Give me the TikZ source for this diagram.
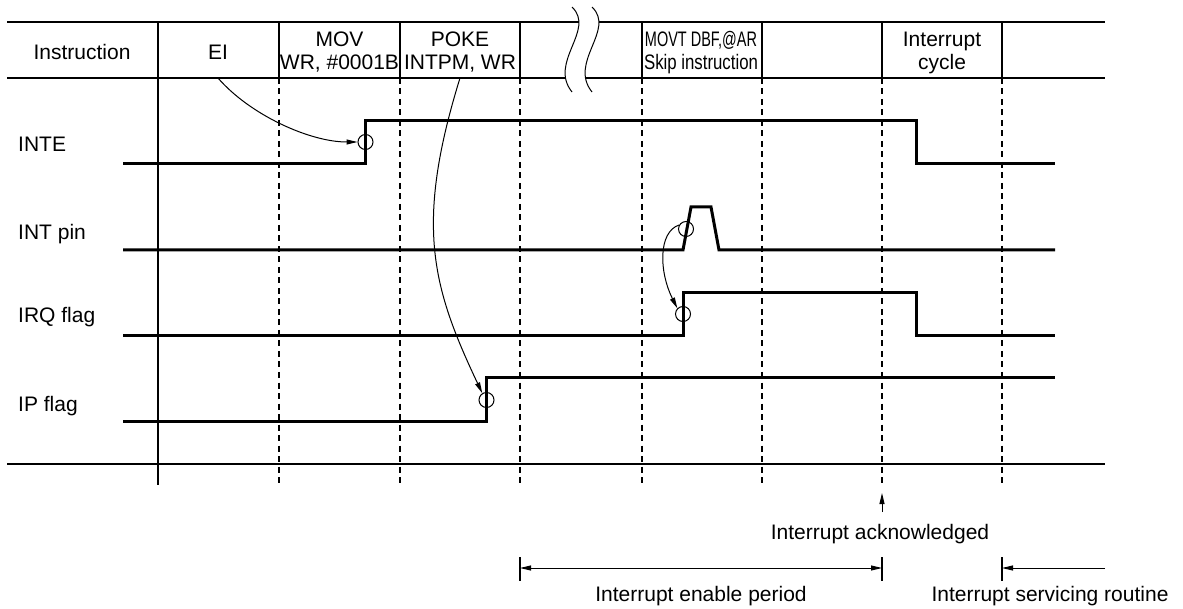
\documentclass[tikz,border=0pt]{standalone}
\usepackage{fontspec}
\setmainfont{Liberation Sans}
\usetikzlibrary{arrows.meta}
\begin{document}
\begin{tikzpicture}[x=1pt,y=-1pt,
  gridline/.style={line width=1.2pt},
  dashline/.style={line width=1.2pt, dash pattern=on 6pt off 4.5pt},
  sig/.style={line width=3pt, line join=miter},
  ring/.style={circle, draw, line width=1pt, minimum size=15pt, inner sep=0pt},
  tip/.style={-{Triangle[length=11pt,width=5pt]}},
  arr/.style={line width=1pt, tip},
  lbl/.style={font=\fontsize{21}{23}\selectfont, inner sep=0pt, anchor=base},
  wave/.style={line width=1pt},
]
\useasboundingbox (0,0) rectangle (1183,609);

% header and bottom lines
\draw[gridline] (7,22) -- (579,22) (599,22) -- (1105,22);
\draw[gridline] (7,78) -- (566,78) (586,78) -- (1105,78);
\draw[gridline] (7,464) -- (1105,464);
\draw[wave] (572,7) .. controls (596,30) and (548,62) .. (572,92);
\draw[wave] (592,7) .. controls (616,30) and (568,62) .. (592,92);

% vertical lines
\draw[gridline] (158,22) -- (158,485);
\foreach \x in {279,400,520,642,762,882,1002}{
  \draw[gridline] (\x,22) -- (\x,78);
  \draw[dashline] (\x,78) -- (\x,485);
}

% header texts
\node[lbl] (hinstr) at (82,60) {Instruction};
\node[lbl] (hei) at (218,60) {EI};
\node[lbl] (hmov1) at (339.5,47) {MOV};
\node[lbl] (hmov2) at (339.5,70) {WR, \#0001B};
\node[lbl] (hpoke1) at (460,47) {POKE};
\node[lbl] (hpoke2) at (460,70) {INTPM, WR};
\node[lbl] (hmovt1) at (701,47) {\scalebox{0.69}[1]{MOVT DBF,@AR}};
\node[lbl] (hmovt2) at (701,70) {\scalebox{0.8}[1]{Skip instruction}};
\node[lbl] (hint1) at (942,47) {Interrupt};
\node[lbl] (hint2) at (942,70) {cycle};

% signal labels
\node[lbl, anchor=base west] (linte) at (18,152) {INTE};
\node[lbl, anchor=base west] (lint) at (18,240) {INT pin};
\node[lbl, anchor=base west] (lirq) at (18,323) {IRQ flag};
\node[lbl, anchor=base west] (lip) at (18,411) {IP flag};

% signals
\draw[sig] (123,164) -- (365.5,164) -- (365.5,121) -- (916,121) -- (916,164) -- (1055,164);
\draw[sig] (123,250) -- (683,250) -- (691,207) -- (711,207) -- (719,250) -- (1055,250);
\draw[sig] (123,336) -- (683,336) -- (683,293) -- (916,293) -- (916,336) -- (1055,336);
\draw[sig] (123,421) -- (486.5,421) -- (486.5,378) -- (1055,378);

% circles
\node[ring] (c1) at (365.5,142) {};
\node[ring] (c2) at (686,229) {};
\node[ring] (c3) at (683,314) {};
\node[ring] (c4) at (486.5,400) {};

% curved arrows
\coordinate (ei) at (218,78);
\coordinate (poke) at (460,78);
\draw[arr] (ei) .. controls (250,115) and (310,142) .. (c1.west);
\draw[arr] (poke) .. controls (414.5,225) and (432,287) .. (c4.122);
\draw[arr] (c2.150) .. controls (658,232) and (659,272) .. (c3.135);

% interrupt acknowledged
\coordinate (ackt) at (882,512);
\coordinate (ackh) at (882,493);
\draw[arr] (ackt) -- (ackh);
\node[lbl] (ack) at (880,539) {Interrupt acknowledged};

% periods
\coordinate (p1) at (520,568);
\coordinate (p2) at (882,568);
\coordinate (p3) at (1002,568);
\coordinate (p4) at (1105,568);
\draw[line width=1.2pt] (520,557) -- (520,581) (882,557) -- (882,581) (1002,557) -- (1002,581);
\draw[line width=1pt, {Triangle[length=11pt,width=5pt]}-{Triangle[length=11pt,width=5pt]}] (p1) -- (p2);
\draw[arr] (p4) -- (p3);
\node[lbl] (enp) at (701,601) {Interrupt enable period};
\node[lbl] (srv) at (1050,601) {Interrupt servicing routine};
\end{tikzpicture}
\end{document}
